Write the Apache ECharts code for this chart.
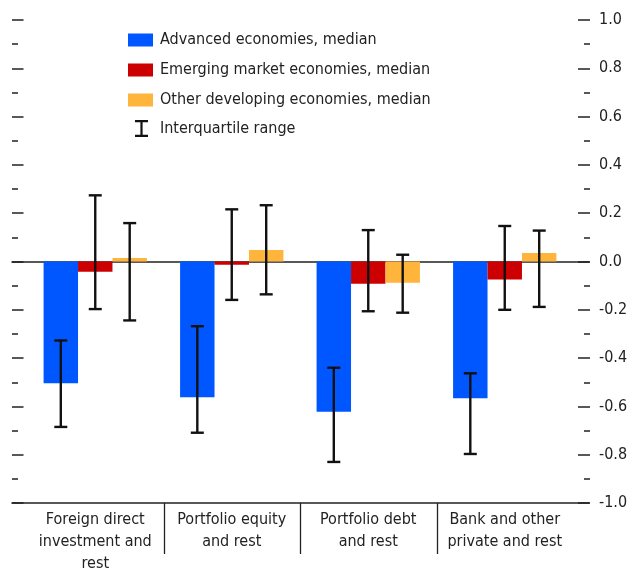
<!DOCTYPE html>
<html>
<head>
<meta charset="utf-8">
<script src="https://cdn.jsdelivr.net/npm/echarts@6/dist/echarts.min.js"></script>
<style>
html,body{margin:0;padding:0;background:#fff;}
#chart{width:629px;height:569px;}
</style>
</head>
<body>
<div id="chart"></div>
<script>
var categories = ['Foreign direct\ninvestment and\nrest', 'Portfolio equity\nand rest', 'Portfolio debt\nand rest', 'Bank and other\nprivate and rest'];
var seriesNames = ['Advanced economies, median', 'Emerging market economies, median', 'Other developing economies, median'];
var advanced = [-0.504, -0.562, -0.622, -0.566];
var emerging = [-0.042, -0.013, -0.092, -0.075];
var otherDev = [0.014, 0.048, -0.088, 0.035];
var advancedIQR = [[-0.685, -0.327], [-0.709, -0.268], [-0.830, -0.440], [-0.797, -0.463]];
var emergingIQR = [[-0.197, 0.274], [-0.159, 0.216], [-0.206, 0.130], [-0.200, 0.147]];
var otherIQR = [[-0.244, 0.159], [-0.136, 0.233], [-0.212, 0.028], [-0.188, 0.128]];
var yMin = -1, yMax = 1, yInterval = 0.2;

var FONT = "'DejaVu Sans Condensed', 'Liberation Sans', sans-serif";
var FS = 16;
var TEXT = '#222';
var colors = ['#0057ff', '#cc0000', '#ffb43c'];
var catGap = 0.243;

var iqrData = [];
[advancedIQR, emergingIQR, otherIQR].forEach(function (arr, k) {
  arr.forEach(function (r, i) { iqrData.push([i, r[0], r[1], k]); });
});
var sepData = categories.slice(1).map(function (c, i) { return [i + 1]; });

var chart = echarts.init(document.getElementById('chart'), null, {renderer: 'canvas'});
var option = {
  animation: false,
  textStyle: {fontFamily: FONT},
  legend: [{
    orient: 'vertical', left: 128, top: 32, padding: 0, itemWidth: 25, itemHeight: 13, itemGap: 14,
    selectedMode: false,
    data: seriesNames.map(function (n) { return {name: n, icon: 'rect'}; }),
    textStyle: {fontFamily: FONT, fontSize: FS, color: TEXT, lineHeight: 13, padding: [0, 0, 0, 2]}
  }, {
    orient: 'vertical', left: 135, top: 120, padding: 0, itemWidth: 13, itemHeight: 17,
    selectedMode: false,
    data: [{name: 'Interquartile range', icon: 'path://M0,0H13V2.2H7.6V14.8H13V17H0V14.8H5.4V2.2H0Z', itemStyle: {color: '#111'}}],
    textStyle: {fontFamily: FONT, fontSize: FS, color: TEXT, lineHeight: 17, padding: [0, 0, 0, 7]}
  }],
  grid: [
    {left: 12, right: 40, top: 20, bottom: 66, containLabel: false, outerBoundsMode: 'none'},
    {left: 27, right: 56, top: 20, bottom: 66, containLabel: false, outerBoundsMode: 'none'}
  ],
  xAxis: [
    {gridIndex: 0, type: 'category', data: categories, position: 'bottom',
      axisLine: {onZero: false, lineStyle: {color: TEXT, width: 1.5}},
      axisTick: {show: false}, axisLabel: {show: false}},
    {gridIndex: 0, type: 'category', data: categories, position: 'bottom',
      axisLine: {onZero: true, lineStyle: {color: TEXT, width: 1.5}},
      axisTick: {show: false}, axisLabel: {show: false}},
    {gridIndex: 1, type: 'category', data: categories, position: 'bottom',
      axisLine: {show: false}, axisTick: {show: false},
      axisLabel: {interval: 0, margin: 6, fontFamily: FONT, fontSize: FS, color: TEXT, lineHeight: 22}}
  ],
  yAxis: [
    {gridIndex: 0, type: 'value', position: 'left', min: yMin, max: yMax, interval: yInterval,
      axisLine: {show: false},
      axisTick: {show: true, inside: true, length: 11.5, lineStyle: {color: TEXT, width: 1.5}},
      minorTick: {show: true, splitNumber: 2, length: 6, lineStyle: {color: TEXT, width: 1.5}},
      axisLabel: {show: false}, splitLine: {show: false}},
    {gridIndex: 0, type: 'value', position: 'right', offset: 1, min: yMin, max: yMax, interval: yInterval,
      axisLine: {show: false},
      axisTick: {show: true, inside: true, length: 12, lineStyle: {color: TEXT, width: 1.5}},
      minorTick: {show: true, splitNumber: 2, length: 6, lineStyle: {color: TEXT, width: 1.5}},
      axisLabel: {show: true, margin: 9, fontFamily: FONT, fontSize: FS, color: TEXT,
        formatter: function (v) { return v.toFixed(1); }},
      splitLine: {show: false}},
    {gridIndex: 1, type: 'value', min: yMin, max: yMax, interval: yInterval, show: false}
  ],
  series: [
    {name: seriesNames[0], type: 'bar', xAxisIndex: 2, yAxisIndex: 2, data: advanced,
      itemStyle: {color: colors[0]}, barGap: '0%', barCategoryGap: (catGap * 100) + '%'},
    {name: seriesNames[1], type: 'bar', xAxisIndex: 2, yAxisIndex: 2, data: emerging,
      itemStyle: {color: colors[1]}, barGap: '0%', barCategoryGap: (catGap * 100) + '%'},
    {name: seriesNames[2], type: 'bar', xAxisIndex: 2, yAxisIndex: 2, data: otherDev,
      itemStyle: {color: colors[2]}, barGap: '0%', barCategoryGap: (catGap * 100) + '%'},
    {name: 'Interquartile range', type: 'custom', xAxisIndex: 2, yAxisIndex: 2, data: iqrData,
      z: 10, itemStyle: {color: '#111'},
      renderItem: function (params, api) {
        var i = api.value(0), k = api.value(3);
        var band = api.size([1, 0])[0];
        var barW = band * (1 - catGap) / 3;
        var lo = api.coord([i, api.value(1)]);
        var hi = api.coord([i, api.value(2)]);
        var x = lo[0] + (k - 1) * barW;
        var cap = 6.5;
        var st = {stroke: '#111', lineWidth: 2.4, fill: null};
        return {type: 'group', children: [
          {type: 'line', shape: {x1: x, y1: lo[1], x2: x, y2: hi[1]}, style: st},
          {type: 'line', shape: {x1: x - cap, y1: lo[1], x2: x + cap, y2: lo[1]}, style: st},
          {type: 'line', shape: {x1: x - cap, y1: hi[1], x2: x + cap, y2: hi[1]}, style: st}
        ]};
      }},
    {name: 'sep', type: 'custom', xAxisIndex: 2, yAxisIndex: 2, data: sepData, silent: true,
      renderItem: function (params, api) {
        var i = api.value(0);
        var band = api.size([1, 0])[0];
        var p = api.coord([i, yMin]);
        var x = Math.round(p[0] - band / 2) + 0.5;
        return {type: 'line', shape: {x1: x, y1: p[1], x2: x, y2: p[1] + 51},
          style: {stroke: TEXT, lineWidth: 1.3}};
      }}
  ]
};
chart.setOption(option);
</script>
</body>
</html>
